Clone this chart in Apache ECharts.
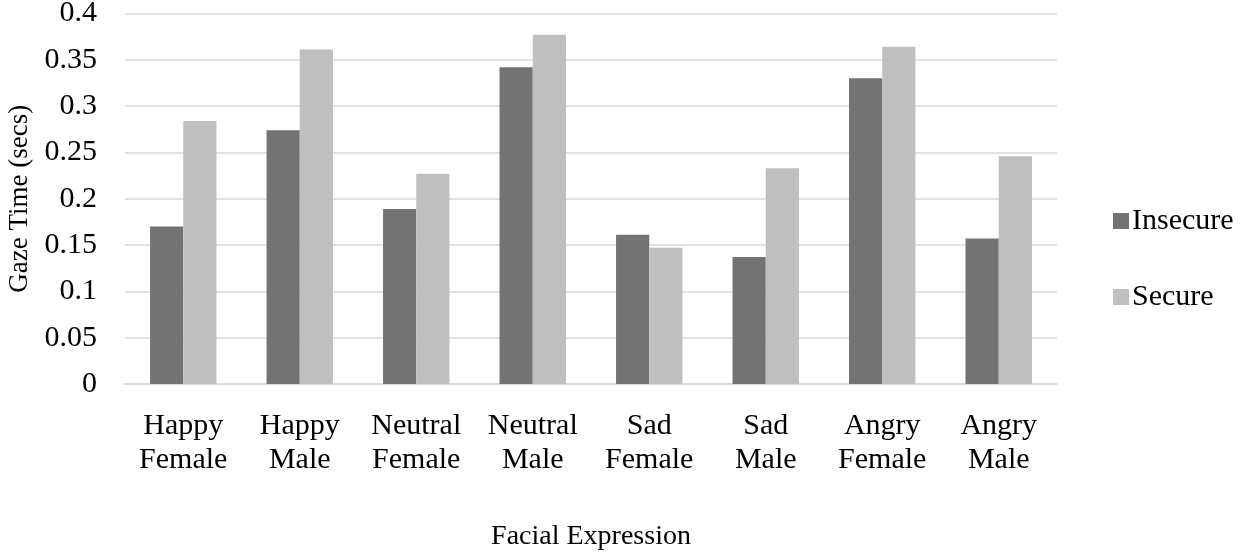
<!DOCTYPE html>
<html><head><meta charset="utf-8">
<script src="https://cdn.jsdelivr.net/npm/echarts@6/dist/echarts.min.js"></script>
<style>html,body{margin:0;padding:0;background:#fff}#c{width:1242px;height:554px}</style>
</head><body><div id="c"></div>
<script>
const categories = ['Happy\nFemale','Happy\nMale','Neutral\nFemale','Neutral\nMale','Sad\nFemale','Sad\nMale','Angry\nFemale','Angry\nMale'];
const insecure = [0.170,0.274,0.189,0.342,0.161,0.137,0.330,0.157];
const secure = [0.284,0.361,0.227,0.377,0.147,0.233,0.364,0.246];
const yTicks = {min:0,max:0.4,interval:0.05};
const font = 'Liberation Serif';
const chart = echarts.init(document.getElementById('c'));
chart.setOption({
  animation:false,
  textStyle:{fontFamily:font},
  grid:{left:125,right:185,top:13.5,bottom:170,containLabel:false,outerBoundsMode:'none'},
  legend:{
    orient:'vertical',left:1108,top:199,itemGap:42,itemWidth:16,itemHeight:16,
    icon:'rect',textStyle:{fontFamily:font,fontSize:30,color:'#000',lineHeight:34,padding:[0,0,0,-2]},
    data:['Insecure','Secure']
  },
  xAxis:{
    type:'category',data:categories,
    name:'Facial Expression',nameLocation:'middle',nameGap:139,
    nameTextStyle:{fontFamily:font,fontSize:28,color:'#000'},
    axisLine:{lineStyle:{color:'#d9d9d9',width:1.5}},
    axisTick:{show:false},
    axisLabel:{interval:0,fontFamily:font,fontSize:30,color:'#000',lineHeight:34,margin:25}
  },
  yAxis:{
    type:'value',min:yTicks.min,max:yTicks.max,interval:yTicks.interval,
    name:'Gaze Time (secs)',nameLocation:'middle',nameGap:91,
    nameTextStyle:{fontFamily:font,fontSize:27,color:'#000'},
    axisLine:{show:false},axisTick:{show:false},
    splitLine:{lineStyle:{color:'#d9d9d9',width:1.5}},
    axisLabel:{fontFamily:font,fontSize:30,color:'#000',margin:28,
      formatter:v=>String(parseFloat(v.toFixed(2)))}
  },
  series:[
    {name:'Insecure',type:'bar',data:insecure,barGap:'0%',barCategoryGap:'43%',
     itemStyle:{color:'#737373'}},
    {name:'Secure',type:'bar',data:secure,barGap:'0%',barCategoryGap:'43%',
     itemStyle:{color:'#bfbfbf'}}
  ]
});
</script></body></html>
